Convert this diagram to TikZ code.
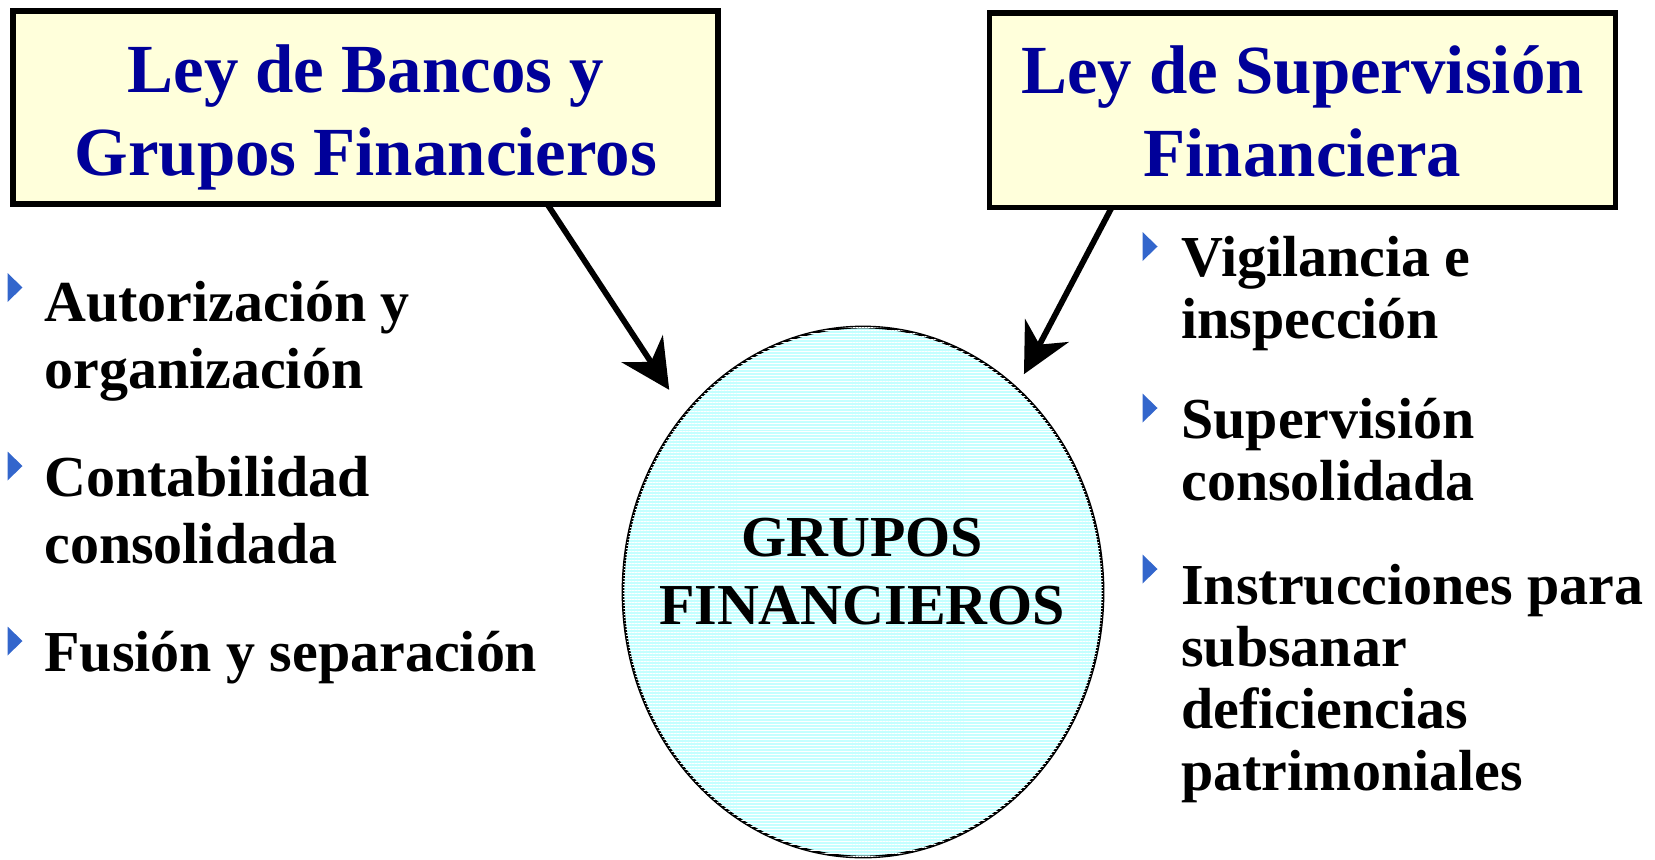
\documentclass[tikz,border=0pt]{standalone}
\usepackage{fontspec}
\setmainfont{Liberation Serif}
\usetikzlibrary{shapes.geometric, arrows.meta, patterns.meta, positioning}
\newlength\px
\setlength\px{0.02cm}
\definecolor{boxfill}{RGB}{255,255,219}
\definecolor{titleblue}{RGB}{0,0,153}
\definecolor{bulletblue}{RGB}{51,102,204}
\definecolor{cyanfill}{RGB}{196,255,255}
\tikzset{
	lawbox/.style={rectangle, draw=black, line width=5.5\px, fill=boxfill, inner sep=0pt, outer sep=0pt},
	lawtitle/.style={text=titleblue, font=\fontsize{39.2}{47}\selectfont\bfseries, align=center, inner sep=0pt},
	group/.style={ellipse, draw=black, line width=2.8\px, fill=cyanfill, minimum width=480\px, minimum height=530\px, inner sep=0pt, outer sep=0pt,
		postaction={pattern={Lines[angle=0, distance=1.7pt, line width=0.45pt]}, pattern color=white}},
	grouptext/.style={font=\fontsize{33}{38.6}\selectfont\bfseries, align=center, inner sep=0pt},
	litem/.style={font=\fontsize{33}{38.2}\selectfont\bfseries, align=left, inner sep=0pt, anchor=base west},
	ritem/.style={font=\fontsize{33}{35.2}\selectfont\bfseries, align=left, inner sep=0pt, anchor=base west},
	arrow/.style={line width=5.8\px, -{Stealth[length=28pt, width=28pt, inset=9pt]}},
	bullet/.pic={\fill[bulletblue] (-7.5,-14.5) -- (7.5,0) -- (-7.5,14.5) -- cycle;}
}
\begin{document}
\begin{tikzpicture}[x=\px, y=-\px]
	\useasboundingbox (0,0) rectangle (1655,859);
	
	% Law boxes (text nodes sit on the baseline of their last line)
	\node (lbox) [lawbox, minimum width=705\px, minimum height=193\px] at (365.7,107.5) {};
	\node (ltitle) [lawtitle, anchor=base] at (365.7,175) {Ley de Bancos y\\Grupos Financieros};
	\node (rbox) [lawbox, minimum width=626\px, minimum height=194.4\px] at (1302.5,110.2) {};
	\node (rtitle) [lawtitle, anchor=base] at (1302.5,176) {Ley de Supervisión\\Financiera};
	
	% Ellipse
	\node (grupos) [group] at (863,592) {};
	\node (gtext) [grouptext, anchor=base] at (862,624) {GRUPOS\\FINANCIEROS};
	
	% Left items
	\pic at (15,287.5) {bullet};
	\node (autoriz) [litem] at (44,388.5) {Autorización y\\organización};
	\pic at (15,466) {bullet};
	\node (contab) [litem] at (44,563.5) {Contabilidad\\consolidada};
	\pic at (15,641) {bullet};
	\node (fusion) [litem] at (44,671) {Fusión y separación};
	
	% Right items
	\pic at (1150,246.5) {bullet};
	\node (vigil) [ritem] at (1181,338) {Vigilancia e\\inspección};
	\pic at (1150,408) {bullet};
	\node (superv) [ritem] at (1181,500) {Supervisión\\consolidada};
	\pic at (1150,569) {bullet};
	\node (instr) [ritem] at (1181,790) {Instrucciones para\\subsanar\\deficiencias\\patrimoniales};
	
	% Arrows
	\draw [arrow, shorten >=29\px] (lbox.-28.4) -- (grupos.135);
	\draw [arrow, shorten >=16\px] (rbox.207.7) -- (grupos.53.5);
	
\end{tikzpicture}
\end{document}
